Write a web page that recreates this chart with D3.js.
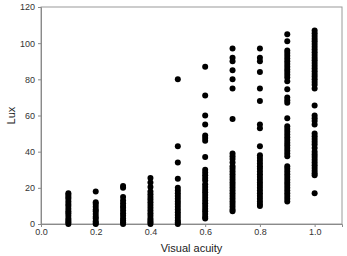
<!DOCTYPE html>
<html>
<head>
<meta charset="utf-8">
<script src="https://cdn.jsdelivr.net/npm/d3@7"></script>
<style>
  body { margin: 0; background: #fff; }
  text { font-family: Arial, "Liberation Sans", sans-serif; }
</style>
</head>
<body>
<svg id="chart" width="347" height="256"></svg>
<script>
// visual acuity columns
var acuity = [0.1, 0.2, 0.3, 0.4, 0.5, 0.6, 0.7, 0.8, 0.9, 1.0];
// lux readings per column
var lux01 = [17, 16, 15, 14, 12.5, 11, 10, 8.5, 7, 6, 4.5, 3, 2, 1, 0];
var lux02 = [18, 12, 11, 9.5, 8, 7, 5.5, 4, 3, 1.5, 0.5, 0];
var lux03 = [21, 20, 15, 13, 11.5, 10, 9, 7.5, 6, 4.5, 3, 2, 1, 0];
var lux04 = [25.5, 23, 20.5, 18, 16.5, 15, 13.5, 12, 10.5, 9, 7.5, 6, 4.5, 3, 2, 1, 0];
var lux05 = [80, 43, 34, 25, 20, 18.5, 17, 15.5, 14, 12.5, 11, 9.5, 8, 6.5, 5, 3.5, 2, 1, 0];
var lux06 = [87, 71, 60, 55, 49, 47.5, 46, 37, 30, 28.5, 27, 25.5, 24, 22, 20.5, 19, 17.5, 16, 14.5, 13, 11.5, 10, 8.5, 7, 5.5, 4, 3];
var lux07 = [97, 92, 90, 85, 80, 75, 58, 39, 37.5, 36, 34, 32, 30.5, 29, 27.5, 26, 24.5, 23, 21.5, 20, 18.5, 17, 15.5, 14, 12.5, 11, 9.5, 8, 7];
var lux08 = [97, 92, 90, 84, 75, 68, 55, 53, 43, 38, 36.5, 35, 33.5, 32, 30.5, 29, 27.5, 26, 24.5, 23, 21.5, 20, 18.5, 17, 15.5, 14, 12.5, 11, 10];
var lux09 = [105, 101, 96, 94.5, 93, 91.5, 90, 88.5, 87, 85.5, 84, 82.5, 81, 79, 74.5, 70, 68.5, 67, 58.5, 54, 52.5, 51, 49.5, 48, 46.5, 45, 43.5, 42, 40.5, 39, 37.5, 32, 30.5, 29, 27.5, 26, 24.5, 23, 21.5, 20, 18.5, 17, 15.5, 14, 12.5];
var lux10 = [107, 105.5, 104, 102.5, 101, 99.5, 98, 96.5, 95, 93.5, 92, 90.5, 89, 87.5, 86, 84.5, 83, 81.5, 80, 78.5, 77, 75, 65.5, 60, 58.5, 57, 55, 50, 48.5, 47, 45.5, 44, 42, 40, 38.5, 37, 35.5, 34, 32.5, 31, 29.5, 28, 27, 17];
var luxColumns = [lux01, lux02, lux03, lux04, lux05, lux06, lux07, lux08, lux09, lux10];
var xTicks = [0.0, 0.2, 0.4, 0.6, 0.8, 1.0];
var yTicks = [0, 20, 40, 60, 80, 100, 120];

var points = [];
acuity.forEach(function(a, i) {
  luxColumns[i].forEach(function(v) { points.push({ x: a, y: v }); });
});

var margin = { left: 41, right: 5, top: 7, bottom: 32 };
var width = 347, height = 256;
var svg = d3.select('#chart');

var x = d3.scaleLinear().domain([0, 1.1]).range([margin.left, width - margin.right]);
var y = d3.scaleLinear().domain([0, 120]).range([height - margin.bottom, margin.top]);

// frame
svg.append('rect')
  .attr('x', x(0)).attr('y', y(120))
  .attr('width', x(1.1) - x(0)).attr('height', y(0) - y(120))
  .attr('fill', 'none').attr('stroke', '#9a9a9a').attr('stroke-width', 1);

var xAxis = svg.append('g')
  .attr('transform', 'translate(0,' + y(0) + ')')
  .call(d3.axisBottom(x).tickValues(xTicks).tickFormat(d3.format('.1f')).tickSize(3).tickPadding(2));
var yAxis = svg.append('g')
  .attr('transform', 'translate(' + x(0) + ',0)')
  .call(d3.axisLeft(y).tickValues(yTicks).tickSize(3).tickPadding(3));

[xAxis, yAxis].forEach(function(g) {
  g.selectAll('path, line').attr('stroke', '#8a8a8a');
  g.selectAll('text').attr('fill', '#333').style('font-size', '9px')
    .style('font-family', 'Arial, "Liberation Sans", sans-serif');
});

// points
svg.append('g').selectAll('circle')
  .data(points)
  .enter().append('circle')
    .attr('cx', function(d) { return x(d.x); })
    .attr('cy', function(d) { return y(d.y); })
    .attr('r', 3)
    .attr('fill', '#000');

// axis titles
svg.append('text')
  .attr('x', (x(0) + x(1.1)) / 2).attr('y', 252)
  .attr('text-anchor', 'middle')
  .attr('fill', '#222').style('font-size', '11px')
  .text('Visual acuity');
svg.append('text')
  .attr('transform', 'translate(15,' + y(60) + ') rotate(-90)')
  .attr('text-anchor', 'middle')
  .attr('fill', '#222').style('font-size', '11px')
  .text('Lux');
</script>
</body>
</html>
